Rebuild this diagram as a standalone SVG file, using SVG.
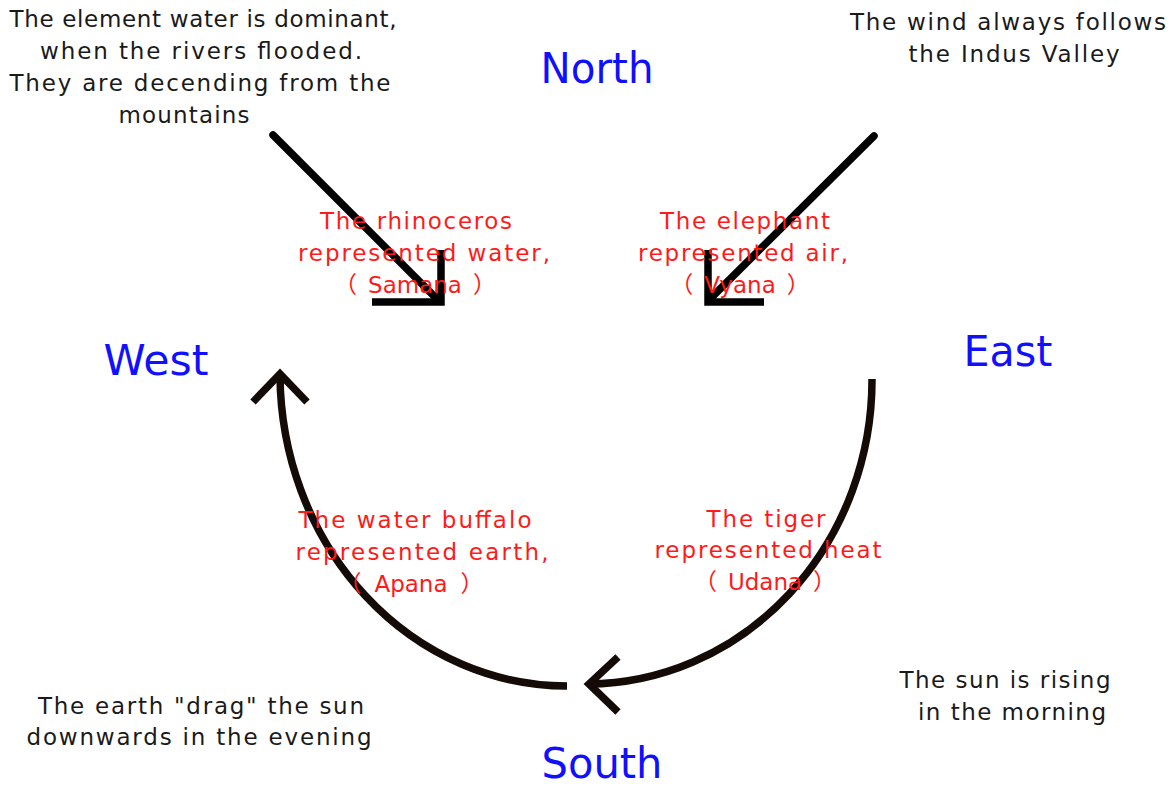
<svg xmlns="http://www.w3.org/2000/svg" width="1175" height="786" viewBox="0 0 1175 786">
<style>
.t{font-family:"DejaVu Sans","Noto Sans CJK JP",sans-serif;font-size:23px;text-anchor:middle}
.k{fill:#1a1a1a}
.r{fill:#ff1a1a}
.b{fill:#1010ff;font-size:43px}
.ln{fill:none;stroke:#000;stroke-width:7.5;stroke-linecap:round}
.hd{fill:none;stroke:#000;stroke-width:7.5;stroke-linecap:butt;stroke-linejoin:miter}
.cv{fill:none;stroke:#140a06;stroke-width:7.5;stroke-linecap:butt;stroke-linejoin:miter}
</style>
<rect width="1175" height="786" fill="#fff"/>
<g id="connectors">
<g id="arrow-north-west">
<line class="ln" x1="273" y1="135" x2="437" y2="299"/>
<polyline class="hd" points="372,302 441,302 441,250"/>
</g>
<g id="arrow-north-east">
<line class="ln" x1="874" y1="136" x2="710" y2="299"/>
<polyline class="hd" points="708,250 708,302 764,302"/>
</g>
<g id="arrow-east-south">
<path class="cv" d="M872,379 A286 304 0 0 1 588,684"/>
<polyline class="cv" points="618,657 589,684 618,712"/>
</g>
<g id="arrow-south-west">
<path class="cv" d="M567,686 A287 313 0 0 1 280,376"/>
<polyline class="cv" points="253,402 280,374 307,402"/>
</g>
</g>
<g id="north"><text class="t b" x="597" y="83" textLength="113" lengthAdjust="spacingAndGlyphs">North</text></g>
<g id="west"><text class="t b" x="156" y="375" textLength="105" lengthAdjust="spacingAndGlyphs">West</text></g>
<g id="east"><text class="t b" x="1008" y="366" textLength="89" lengthAdjust="spacingAndGlyphs">East</text></g>
<g id="south"><text class="t b" x="602" y="778" textLength="121" lengthAdjust="spacingAndGlyphs">South</text></g>
<g id="note-water">
<text class="t k" x="203" y="27" textLength="387">The element water is dominant,</text>
<text class="t k" x="201" y="59" textLength="322">when the rivers flooded.</text>
<text class="t k" x="200" y="91" textLength="381">They are decending from the</text>
<text class="t k" x="184" y="123" textLength="131">mountains</text>
</g>
<g id="note-wind">
<text class="t k" x="1008" y="30" textLength="316">The wind always follows</text>
<text class="t k" x="1014" y="62" textLength="211">the Indus Valley</text>
</g>
<g id="note-sun">
<text class="t k" x="1005" y="688" textLength="211">The sun is rising</text>
<text class="t k" x="1012" y="720" textLength="188">in the morning</text>
</g>
<g id="note-earth">
<text class="t k" x="201" y="714" textLength="326">The earth "drag" the sun</text>
<text class="t k" x="199" y="745" textLength="345">downwards in the evening</text>
</g>
<g id="label-rhinoceros">
<text class="t r" x="416" y="229" textLength="192">The rhinoceros</text>
<text class="t r" x="424" y="261" textLength="252">represented water,</text>
<text class="t r" x="415" y="293">（<tspan dx="11">Samana</tspan><tspan dx="11">）</tspan></text>
</g>
<g id="label-elephant">
<text class="t r" x="745" y="229" textLength="170">The elephant</text>
<text class="t r" x="743" y="261" textLength="210">represented air,</text>
<text class="t r" x="740" y="293">（<tspan dx="11">Vyana</tspan><tspan dx="11">）</tspan></text>
</g>
<g id="label-buffalo">
<text class="t r" x="415" y="528" textLength="233">The water buffalo</text>
<text class="t r" x="422" y="560" textLength="253">represented earth,</text>
<text class="t r" x="411" y="592">（<tspan dx="13">Apana</tspan><tspan dx="13">）</tspan></text>
</g>
<g id="label-tiger">
<text class="t r" x="766" y="527" textLength="119">The tiger</text>
<text class="t r" x="768" y="558" textLength="227">represented heat</text>
<text class="t r" x="765" y="590">（<tspan dx="11">Udana</tspan><tspan dx="11">）</tspan></text>
</g>
</svg>
